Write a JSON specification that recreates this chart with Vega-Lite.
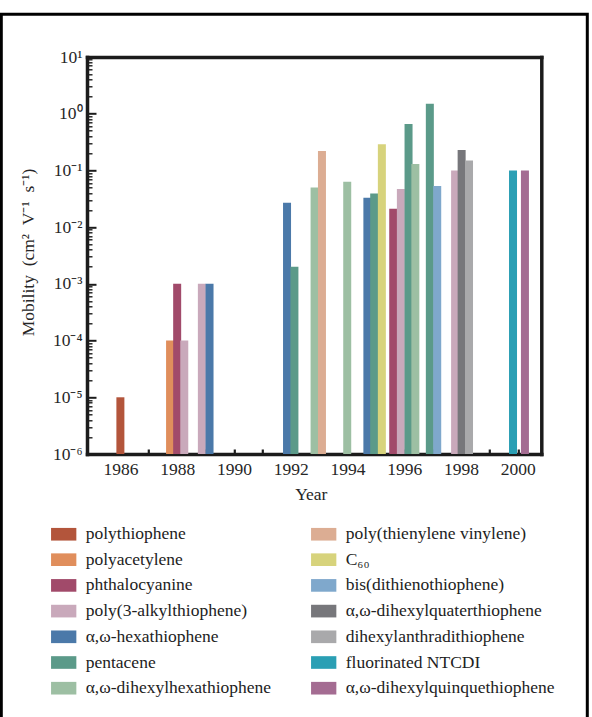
{
  "$schema": "https://vega.github.io/schema/vega-lite/v6.json",
  "width": 586,
  "height": 702.7,
  "autosize": {"type": "none"},
  "padding": {"left": 1.3, "top": 14.3, "right": 4.7, "bottom": 0},
  "background": "white",
  "config": {
    "view": {"stroke": "black", "strokeWidth": 3, "strokeDash": [1288.7, 586, 702.7]},
    "font": "Liberation Serif",
    "axis": {
      "labelFont": "Liberation Serif",
      "titleFont": "Liberation Serif",
      "labelColor": "#262626",
      "titleColor": "#262626",
      "domainColor": "#1c1c1c",
      "tickColor": "#1c1c1c",
      "grid": false,
      "domainCap": "square",
      "titleFontWeight": "normal"
    }
  },
  "data": {
    "values": [
      {"material": "polythiophene", "year": 1986.0, "mobility": 0.00001},
      {"material": "polyacetylene", "year": 1987.75, "mobility": 0.0001},
      {"material": "phthalocyanine", "year": 1988.0, "mobility": 0.001},
      {"material": "poly(3-alkylthiophene)", "year": 1988.25, "mobility": 0.0001},
      {"material": "poly(3-alkylthiophene)", "year": 1988.87, "mobility": 0.001},
      {"material": "α,ω-hexathiophene", "year": 1989.14, "mobility": 0.001},
      {"material": "α,ω-hexathiophene", "year": 1991.87, "mobility": 0.027},
      {"material": "pentacene", "year": 1992.13, "mobility": 0.002},
      {"material": "α,ω-dihexylhexathiophene", "year": 1992.84, "mobility": 0.05},
      {"material": "poly(thienylene vinylene)", "year": 1993.1, "mobility": 0.22},
      {"material": "α,ω-dihexylhexathiophene", "year": 1993.99, "mobility": 0.063},
      {"material": "α,ω-hexathiophene", "year": 1994.7, "mobility": 0.033},
      {"material": "pentacene", "year": 1994.94, "mobility": 0.039},
      {"material": "C₆₀", "year": 1995.21, "mobility": 0.29},
      {"material": "phthalocyanine", "year": 1995.61, "mobility": 0.021},
      {"material": "poly(3-alkylthiophene)", "year": 1995.88, "mobility": 0.047},
      {"material": "pentacene", "year": 1996.15, "mobility": 0.66},
      {"material": "α,ω-dihexylhexathiophene", "year": 1996.39, "mobility": 0.13},
      {"material": "pentacene", "year": 1996.9, "mobility": 1.5},
      {"material": "bis(dithienothiophene)", "year": 1997.16, "mobility": 0.053},
      {"material": "poly(3-alkylthiophene)", "year": 1997.79, "mobility": 0.1},
      {"material": "α,ω-dihexylquaterthiophene", "year": 1998.02, "mobility": 0.23},
      {"material": "dihexylanthradithiophene", "year": 1998.28, "mobility": 0.15},
      {"material": "fluorinated NTCDI", "year": 1999.83, "mobility": 0.1},
      {"material": "α,ω-dihexylquinquethiophene", "year": 2000.25, "mobility": 0.1}
    ]
  },
  "layer": [
    {
      "mark": {"type": "bar", "size": 8},
      "encoding": {
        "x": {
          "field": "year",
          "type": "quantitative",
          "scale": {"type": "linear", "domain": [1985, 2000.65], "range": [85.7, 540], "nice": false, "zero": false},
          "axis": {
            "orient": "bottom",
            "offset": -263,
            "values": [1986, 1988, 1990, 1992, 1994, 1996, 1998, 2000],
            "format": "d",
            "ticks": false,
            "domainWidth": 3.5,
            "labelFontSize": 17.5,
            "labelPadding": 6,
            "labelFlush": false,
            "labelOverlap": false,
            "title": "Year",
            "titleFontSize": 17.5,
            "titleX": 309.5,
            "titleY": 45,
            "titleBaseline": "alphabetic"
          }
        },
        "y": {
          "field": "mobility",
          "type": "quantitative",
          "scale": {"type": "log", "domain": [0.000001, 10], "range": [439.7, 42.7], "nice": false},
          "axis": {
            "orient": "left",
            "offset": -85.7,
            "values": [0.000001, 0.00001, 0.0001, 0.001, 0.01, 0.1, 1, 10],
            "labelExpr": "['10⁻⁶','10⁻⁵','10⁻⁴','10⁻³','10⁻²','10⁻¹','10⁰','10¹'][round(log(datum.value)/LN10)+6]",
            "ticks": false,
            "domainWidth": 3.5,
            "labelFontSize": 17.5,
            "labelPadding": 5,
            "labelFlush": false,
            "labelOverlap": false,
            "labelBaseline": "middle",
            "title": "Mobility\u2002(cm²\u2002V⁻¹\u2002s⁻¹)",
            "titleFontSize": 17.5,
            "titleAngle": 270,
            "titleX": -53.7,
            "titleY": 237.7,
            "titleAlign": "center",
            "titleBaseline": "alphabetic"
          }
        },
        "y2": {"datum": 0.000001},
        "color": {
          "field": "material",
          "type": "nominal",
          "scale": {
            "domain": [
              "polythiophene",
              "polyacetylene",
              "phthalocyanine",
              "poly(3-alkylthiophene)",
              "α,ω-hexathiophene",
              "pentacene",
              "α,ω-dihexylhexathiophene",
              "poly(thienylene vinylene)",
              "C₆₀",
              "bis(dithienothiophene)",
              "α,ω-dihexylquaterthiophene",
              "dihexylanthradithiophene",
              "fluorinated NTCDI",
              "α,ω-dihexylquinquethiophene"
            ],
            "range": [
              "#b3553b",
              "#e08e5c",
              "#a14a6a",
              "#c9a9bb",
              "#4b79a9",
              "#5b9a89",
              "#9dbfa3",
              "#dcad93",
              "#d7d37c",
              "#7fa8cc",
              "#77777b",
              "#a9a9ab",
              "#2a9fb4",
              "#a46c92"
            ]
          },
          "legend": {
            "orient": "none",
            "legendX": 49.4,
            "legendY": 506.7,
            "direction": "vertical",
            "columns": 2,
            "columnPadding": 39,
            "rowPadding": 3.7,
            "symbolType": "M-1,-0.5H1V0.5H-1Z",
            "symbolSize": 640,
            "symbolStrokeWidth": 0,
            "symbolOpacity": 1,
            "labelFont": "Liberation Serif",
            "labelFontSize": 17.5,
            "labelColor": "#222222",
            "labelOffset": 9,
            "labelLimit": 400,
            "title": null,
            "padding": 0
          }
        }
      }
    },
    {
      "mark": {"type": "point", "opacity": 0},
      "encoding": {
        "x": {
          "field": "year",
          "type": "quantitative",
          "scale": {"type": "linear", "domain": [1985, 2000.65], "range": [85.7, 540], "nice": false, "zero": false},
          "axis": {"orient": "top", "offset": -42.7, "domainWidth": 3.5, "ticks": false, "labels": false, "title": null}
        },
        "y": {
          "field": "mobility",
          "type": "quantitative",
          "scale": {"type": "log", "domain": [0.000001, 10], "range": [439.7, 42.7], "nice": false},
          "axis": {
            "orient": "left",
            "offset": -85.7,
            "domain": false,
            "labels": false,
            "title": null,
            "values": [
              0.000001, 0.000002, 0.000003, 0.000004, 0.000005, 0.000006, 0.000007, 0.000008, 0.000009,
              0.00001, 0.00002, 0.00003, 0.00004, 0.00005, 0.00006, 0.00007, 0.00008, 0.00009,
              0.0001, 0.0002, 0.0003, 0.0004, 0.0005, 0.0006, 0.0007, 0.0008, 0.0009,
              0.001, 0.002, 0.003, 0.004, 0.005, 0.006, 0.007, 0.008, 0.009,
              0.01, 0.02, 0.03, 0.04, 0.05, 0.06, 0.07, 0.08, 0.09,
              0.1, 0.2, 0.3, 0.4, 0.5, 0.6, 0.7, 0.8, 0.9,
              1, 2, 3, 4, 5, 6, 7, 8, 9,
              10
            ],
            "tickSize": {"condition": {"test": "abs(log(datum.value)/LN10 - round(log(datum.value)/LN10)) < 0.001", "value": -9}, "value": -5},
            "tickWidth": {"condition": {"test": "abs(log(datum.value)/LN10 - round(log(datum.value)/LN10)) < 0.001", "value": 2}, "value": 1.4}
          }
        }
      }
    },
    {
      "mark": {"type": "point", "opacity": 0},
      "encoding": {
        "x": {
          "field": "year",
          "type": "quantitative",
          "scale": {"type": "linear", "domain": [1985, 2000.65], "range": [85.7, 540], "nice": false, "zero": false},
          "axis": {
            "orient": "bottom",
            "offset": -263,
            "domain": false,
            "labels": false,
            "title": null,
            "values": [1986, 1987, 1988, 1989, 1990, 1991, 1992, 1993, 1994, 1995, 1996, 1997, 1998, 1999, 2000],
            "tickSize": -5,
            "tickWidth": 2.2
          }
        },
        "y": {
          "field": "mobility",
          "type": "quantitative",
          "scale": {"type": "log", "domain": [0.000001, 10], "range": [439.7, 42.7], "nice": false},
          "axis": {"orient": "right", "offset": -46, "domainWidth": 3.5, "ticks": false, "labels": false, "title": null}
        }
      }
    }
  ],
  "resolve": {"axis": {"x": "independent", "y": "independent"}}
}
